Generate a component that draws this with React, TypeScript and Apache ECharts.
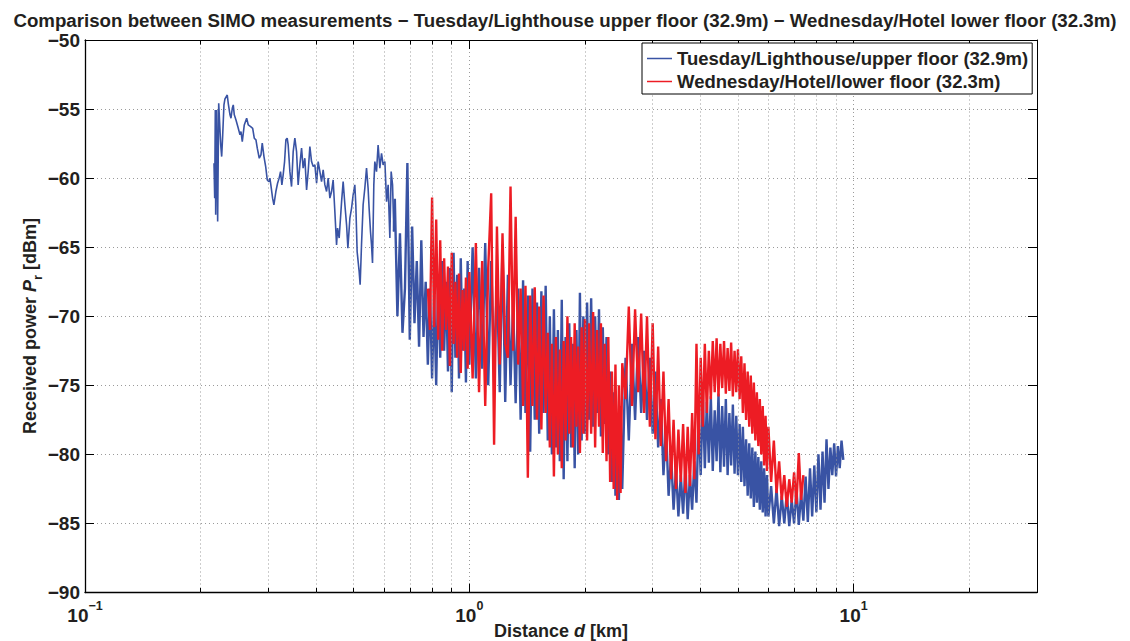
import React, { useEffect, useRef } from "react";
import * as echarts from "echarts";

// Tuesday trace, near field (distance km, power dBm)
const blueNear: [number, number][] = [
  [0.2166,-58.92],[0.2175,-61.45],[0.2183,-55.06],[0.2188,-62.66],[0.2201,-55.06],[0.2214,-63.14],[0.2228,-54.58],
  [0.2255,-57.6],[0.2268,-58.44],[0.2282,-56.87],[0.2299,-54.7],[0.2313,-54.27],[0.2345,-53.98],[0.2359,-54.58],
  [0.2384,-55.42],[0.2398,-55.66],[0.2417,-54.94],[0.2431,-54.7],[0.2446,-55.42],[0.2471,-55.79],[0.2505,-56.39],
  [0.2531,-56.87],[0.2546,-56.63],[0.2566,-57.36],[0.2597,-56.15],[0.2634,-55.66],[0.266,-56.15],[0.2698,-56.27],
  [0.2731,-56.39],[0.2757,-57.11],[0.2785,-57.23],[0.2807,-57.83],[0.2841,-58.56],[0.287,-58.32],[0.2892,-57.47],
  [0.2922,-58.44],[0.2952,-59.16],[0.298,-60.13],[0.3009,-60.25],[0.3027,-60.0],[0.3045,-60.49],[0.3077,-61.45],
  [0.3101,-61.93],[0.3138,-60.97],[0.317,-60.37],[0.32,-60.0],[0.3227,-59.53],[0.3253,-60.49],[0.3278,-59.76],
  [0.3306,-58.8],[0.3332,-57.23],[0.3358,-57.11],[0.3378,-57.6],[0.3413,-59.53],[0.3447,-60.61],[0.3481,-58.08],
  [0.3516,-57.11],[0.3552,-58.08],[0.3586,-60.49],[0.3623,-59.04],[0.366,-57.83],[0.3695,-59.28],[0.3733,-58.56],
  [0.3772,-60.85],[0.3808,-59.53],[0.3847,-57.72],[0.3886,-58.8],[0.3924,-59.16],[0.3964,-59.04],[0.4005,-60.37],
  [0.4043,-58.8],[0.4085,-59.53],[0.4126,-60.25],[0.4166,-59.4],[0.4209,-60.49],[0.4252,-60.97],[0.4293,-60.0],
  [0.4337,-61.45],[0.4381,-60.97],[0.4423,-60.13],[0.4468,-62.42],[0.4514,-64.83],[0.4541,-63.62],[0.4585,-64.34],
  [0.4652,-61.7],[0.4696,-60.25],[0.4745,-61.93],[0.4793,-63.38],[0.4831,-65.07],[0.4889,-62.9],[0.4939,-62.17],
  [0.4986,-61.21],[0.5036,-60.49],[0.5066,-61.93],[0.5106,-65.31],[0.5168,-66.76],[0.5199,-67.72],[0.5242,-64.83],
  [0.5293,-61.93],[0.5347,-60.73],[0.5402,-59.28],[0.5453,-60.73],[0.5486,-62.17],[0.5532,-63.87],[0.5566,-64.83],
  [0.5599,-66.15],[0.5643,-60.49],[0.5677,-58.8],[0.5735,-59.53],[0.579,-57.6],[0.585,-59.28],[0.591,-58.2],
  [0.5967,-59.04],[0.6029,-58.8],[0.6091,-61.7],[0.6149,-60.49],[0.6212,-64.34],[0.6261,-59.53],[0.6313,-60.49],
  [0.6363,-63.87],
];

// Distances (km) where the dense part of both traces was read
const denseDistance: number[] = [
  0.64,0.65,0.66,0.67,0.68,0.69,0.7,0.71,0.72,0.73,0.74,0.75,0.76,0.77,0.78,0.79,0.8,0.81,0.82,0.83,
  0.84,0.85,0.86,0.87,0.88,0.89,0.9,0.91,0.92,0.93,0.94,0.95,0.96,0.97,0.98,0.99,1.0,
  1.02,1.04,1.06,1.08,1.1,1.12,1.14,1.16,1.18,1.2,1.22,1.24,1.26,1.28,1.3,1.32,1.34,1.36,1.38,1.4,
  1.42,1.44,1.46,1.48,1.5,1.52,1.54,1.56,1.58,1.6,1.62,1.64,1.66,1.68,1.7,1.72,1.74,1.76,1.78,1.8,
  1.82,1.84,1.86,1.88,1.9,1.92,1.94,1.96,1.98,2.0,
  2.025,2.05,2.075,2.1,2.125,2.15,2.175,2.2,2.225,2.25,2.275,2.3,2.325,2.35,2.375,2.4,2.425,2.45,2.475,2.5,
  2.55,2.6,2.65,2.7,2.75,2.8,2.85,2.9,2.95,3.0,
  3.05,3.1,3.15,3.2,3.25,3.3,3.35,3.4,3.45,3.5,3.55,3.6,3.65,3.7,3.75,3.8,3.85,3.9,3.95,4.0,
  4.05,4.1,4.15,4.2,4.25,4.3,4.35,4.4,4.45,4.5,4.55,4.6,4.65,4.7,4.75,4.8,4.85,4.9,4.95,5.0,
  5.05,5.1,5.15,5.2,5.25,5.3,5.35,5.4,5.45,5.5,5.55,5.6,5.65,5.7,5.75,5.8,5.85,5.9,5.95,6.0,
  6.1,6.2,6.3,6.4,6.5,6.6,6.7,6.8,6.9,7.0,7.1,7.2,7.3,7.4,7.5,7.6,7.7,7.8,7.9,8.0,
  8.1,8.2,8.3,8.4,8.5,8.6,8.7,8.8,8.9,9.0,9.1,9.2,9.3,9.4,
];

// Tuesday / Lighthouse / upper floor (dBm), dense part
const blueDense: (number | null)[] = [
  -61.5,-70.0,-64.0,-71.2,-68.0,-58.9,-71.7,-63.5,-70.5,-66.0,-72.2,-64.5,-71.5,-67.5,-73.5,-68.0,-74.5,-68.5,-75.0,-67.0,
  -73.0,-66.0,-72.5,-67.5,-74.0,-66.5,-75.5,-65.4,-73.0,-67.0,-74.5,-65.8,-72.5,-68.0,-74.8,-66.0,-73.5,
  -65.0,-74.5,-66.5,-73.8,-64.7,-75.0,-66.0,-74.0,-67.5,-75.5,-64.8,-76.2,-67.0,-75.0,-69.0,-76.3,-68.0,-77.5,-67.4,-77.0,
  -68.5,-79.8,-68.0,-77.5,-69.0,-78.5,-68.2,-77.0,-67.8,-79.0,-70.0,-80.0,-69.5,-79.5,-71.0,-80.5,-68.8,-81.8,-71.5,-80.5,
  -70.5,-79.5,-72.0,-81.0,-71.0,-80.0,-68.3,-79.0,-70.0,-78.5,
  -69.0,-77.5,-68.7,-78.0,-70.0,-77.0,-69.5,-78.7,-70.8,-77.8,-71.5,-80.0,-74.0,-82.0,-75.5,-83.0,-77.0,-83.3,-76.5,-82.5,
  -73.0,-79.0,-72.0,-77.5,-71.5,-77.0,-72.5,-77.5,-73.0,-78.5,
  -74.0,-79.5,-76.0,-81.5,-78.0,-83.0,-80.0,-84.0,-81.0,-84.5,-81.5,-84.3,-80.8,-84.7,-81.5,-84.0,-80.5,-83.5,-77.0,-81.5,
  -75.5,-81.0,-76.2,-80.6,-75.8,-81.2,-76.8,-80.5,-75.6,-81.3,-76.5,-80.9,-76.0,-81.5,-77.0,-80.8,-76.4,-81.4,-77.2,-81.5,
  -77.8,-82.0,-78.0,-82.3,-78.9,-83.0,-79.2,-83.2,-79.5,-83.8,-79.8,-83.5,-80.2,-84.0,-80.5,-84.2,-81.0,-84.5,-81.5,-84.5,
  -82.3,-85.0,-82.5,-85.2,-83.0,-85.0,-82.8,-85.2,-83.3,-85.0,-82.5,-85.1,-82.8,-84.8,-81.6,-84.9,-81.0,-84.5,-80.8,-84.2,
  -80.0,-84.0,-79.8,-83.5,-78.9,-82.5,-79.5,-81.5,-79.2,-81.6,-79.4,-81.0,-79.0,-80.4,
];

// Wednesday / Hotel / lower floor (dBm), dense part
const redDense: (number | null)[] = [
  null,null,null,null,null,null,null,null,null,null,null,null,null,null,-68.0,-71.0,-61.4,-70.8,-63.0,-71.7,
  -64.5,-72.5,-65.8,-71.0,-66.4,-73.6,-65.4,-72.0,-67.5,-73.0,-66.9,-74.1,-68.1,-72.5,-67.2,-73.8,-66.8,
  -74.5,-64.7,-75.5,-66.0,-76.5,-66.5,-61.1,-79.3,-63.5,-73.5,-64.0,-72.0,-73.0,-60.6,-72.5,-62.8,-73.5,-68.0,-76.5,-67.8,
  -81.7,-68.5,-76.5,-67.9,-77.5,-69.3,-78.2,-68.5,-77.0,-71.2,-79.5,-72.0,-81.6,-71.5,-80.0,-72.4,-81.0,-71.8,-79.0,-70.0,
  -78.5,-71.5,-79.5,-70.5,-78.0,-72.2,-79.9,-70.8,-78.5,-70.2,
  -79.0,-70.5,-78.5,-69.7,-79.5,-71.0,-78.0,-70.5,-79.9,-72.0,-80.5,-71.5,-82.0,-74.0,-82.5,-73.5,-83.3,-75.0,-82.8,-73.4,
  -76.0,-69.3,-76.5,-69.5,-75.5,-69.8,-77.0,-70.0,-78.0,-70.5,
  -78.9,-72.2,-79.4,-74.0,-80.5,-76.0,-81.8,-77.5,-82.5,-78.2,-82.0,-77.8,-82.8,-78.0,-82.3,-77.0,-81.8,-72.0,-80.0,-73.0,
  -78.0,-72.0,-77.0,-72.5,-76.0,-71.8,-75.5,-71.6,-75.8,-72.0,-75.2,-71.8,-75.6,-72.3,-75.4,-71.9,-75.8,-72.5,-75.5,-72.4,
  -76.0,-72.9,-77.0,-73.4,-77.5,-74.0,-78.0,-74.3,-78.5,-74.8,-79.0,-75.5,-79.4,-76.0,-80.0,-76.5,-80.8,-77.2,-81.2,-78.0,
  -82.0,-79.0,-82.8,-80.5,-83.3,-81.5,-83.8,-81.8,-83.5,-81.3,-83.6,-79.9,-83.3,-81.5,null,null,null,null,null,null,
  null,null,null,null,null,null,null,null,null,null,null,null,null,null,
];

const minorDistances = [0.2, 0.3, 0.4, 0.5, 0.6, 0.7, 0.8, 0.9, 2, 3, 4, 5, 6, 7, 8, 9, 20];

const SERIES_BLUE = "Tuesday/Lighthouse/upper floor (32.9m)";
const SERIES_RED = "Wednesday/Hotel/lower floor (32.3m)";
const TITLE =
  "Comparison between SIMO measurements \u2212 Tuesday/Lighthouse upper floor (32.9m) \u2212 Wednesday/Hotel lower floor (32.3m)";

const FONT = '"Liberation Sans", Arial, Helvetica, sans-serif';
const TXT = "#231f20";
const BLUE = "#3953a4";
const RED = "#ed1c24";
const GRID = "#9a9a9a";

export default function App() {
  const ref = useRef<HTMLDivElement>(null);

  useEffect(() => {
    if (!ref.current) return;
    const chart = echarts.init(ref.current, undefined, { renderer: "svg" });

    const blueDenseData: [number, number][] = [blueNear[blueNear.length - 1]].concat(
      denseDistance
        .map((d, i) => [d, blueDense[i]] as [number, number | null])
        .filter((p) => p[1] != null) as [number, number][]
    );
    const redData: [number, number][] = denseDistance
      .map((d, i) => [d, redDense[i]] as [number, number | null])
      .filter((p) => p[1] != null) as [number, number][];

    const markData: any[] = [];
    minorDistances.forEach((d) => {
      markData.push({ xAxis: d, lineStyle: { type: [1, 3], color: GRID, width: 1 } });
      markData.push([
        { coord: [d, -90], lineStyle: { type: "solid", color: "#000", width: 1 } },
        { coord: [d, -89.67] },
      ]);
      markData.push([
        { coord: [d, -50], lineStyle: { type: "solid", color: "#000", width: 1 } },
        { coord: [d, -50.33] },
      ]);
    });

    const decadeLabel = (v: number) => {
      const l = Math.log10(v);
      const e = Math.round(l);
      if (Math.abs(l - e) > 1e-6) return "";
      return "{b|10}{s|" + (e < 0 ? "\u2212" + -e : String(e)) + "}";
    };

    const textBold = { fontFamily: FONT, fontWeight: "bold" as const, color: TXT };

    chart.setOption({
      animation: false,
      backgroundColor: "#fff",
      title: {
        text: TITLE,
        left: "center",
        top: 6,
        textStyle: { ...textBold, fontSize: 18.7 },
      },
      legend: {
        orient: "vertical",
        left: 642,
        top: 43,
        icon: "rect",
        itemWidth: 25,
        itemHeight: 1.5,
        itemGap: 4,
        padding: [6, 4, 3, 5],
        borderColor: "#000",
        borderWidth: 1,
        backgroundColor: "#fff",
        z: 10,
        textStyle: { ...textBold, fontSize: 18.5 },
        data: [SERIES_BLUE, SERIES_RED],
      },
      grid: { left: 85, top: 40, width: 952, height: 552.5, show: false },
      xAxis: [
        {
          type: "log",
          logBase: 10,
          min: 0.1,
          max: 30,
          position: "bottom",
          axisLine: { show: true, lineStyle: { color: "#000", width: 1.3 } },
          axisTick: { show: true, inside: true, length: 9, lineStyle: { color: "#000", width: 1 } },
          splitLine: { show: true, lineStyle: { type: [1, 3], color: GRID, width: 1 } },
          axisLabel: {
            margin: 7,
            formatter: decadeLabel,
            rich: {
              b: { ...textBold, fontSize: 19, padding: [6, 0, 0, 0], verticalAlign: "bottom" },
              s: { ...textBold, fontSize: 12.5, padding: [0, 0, 12, 0], verticalAlign: "bottom" },
            },
          },
        },
        {
          type: "log",
          logBase: 10,
          min: 0.1,
          max: 30,
          position: "top",
          axisLine: { show: true, lineStyle: { color: "#000", width: 1 } },
          axisTick: { show: true, inside: true, length: 9, lineStyle: { color: "#000", width: 1 } },
          splitLine: { show: false },
          axisLabel: { show: false },
        },
      ],
      yAxis: [
        {
          type: "value",
          min: -90,
          max: -50,
          interval: 5,
          axisLine: { show: true, lineStyle: { color: "#000", width: 1.3 } },
          axisTick: { show: true, inside: true, length: 9, lineStyle: { color: "#000", width: 1 } },
          splitLine: { show: true, lineStyle: { type: [1, 3], color: GRID, width: 1 } },
          axisLabel: {
            margin: 5,
            ...textBold,
            fontSize: 19,
            formatter: (v: number) => String(v).replace("-", "\u2212"),
          },
        },
        {
          type: "value",
          min: -90,
          max: -50,
          interval: 5,
          position: "right",
          axisLine: { show: true, lineStyle: { color: "#000", width: 1 } },
          axisTick: { show: true, inside: true, length: 9, lineStyle: { color: "#000", width: 1 } },
          splitLine: { show: false },
          axisLabel: { show: false },
        },
      ],
      graphic: [
        {
          type: "text",
          x: 561,
          y: 631,
          z: 20,
          style: {
            text: "{n|Distance }{i|d}{n| [km]}",
            align: "center",
            verticalAlign: "middle",
            rich: {
              n: { fontFamily: FONT, fontWeight: "bold", fontSize: 18, fill: TXT },
              i: { fontFamily: FONT, fontWeight: "bold", fontStyle: "italic", fontSize: 18, fill: TXT },
            },
          },
        },
        {
          type: "text",
          x: 32,
          y: 326,
          rotation: Math.PI / 2,
          z: 20,
          style: {
            text: "{n|Received power }{i|P}{sub|r}{n| [dBm]}",
            align: "center",
            verticalAlign: "middle",
            rich: {
              n: { fontFamily: FONT, fontWeight: "bold", fontSize: 18, fill: TXT, padding: [0, 0, 5, 0], verticalAlign: "bottom" },
              i: { fontFamily: FONT, fontWeight: "bold", fontStyle: "italic", fontSize: 18, fill: TXT, padding: [0, 0, 5, 0], verticalAlign: "bottom" },
              sub: { fontFamily: FONT, fontWeight: "bold", fontSize: 13, fill: TXT, verticalAlign: "bottom" },
            },
          },
        },
      ],
      series: [
        {
          name: "grid-helper",
          type: "line",
          data: [],
          z: 1,
          silent: true,
          markLine: {
            silent: true,
            symbol: ["none", "none"],
            label: { show: false },
            animation: false,
            data: markData,
          },
        },
        {
          name: SERIES_BLUE,
          type: "line",
          data: blueNear,
          showSymbol: false,
          symbol: "none",
          z: 3,
          lineStyle: { color: BLUE, width: 1.6 },
          itemStyle: { color: BLUE },
        },
        {
          name: SERIES_BLUE,
          type: "line",
          data: blueDenseData,
          showSymbol: false,
          symbol: "none",
          z: 3,
          lineStyle: { color: BLUE, width: 2.4, join: "bevel" },
          itemStyle: { color: BLUE },
        },
        {
          name: SERIES_RED,
          type: "line",
          data: redData,
          showSymbol: false,
          symbol: "none",
          z: 4,
          lineStyle: { color: RED, width: 2.4, join: "bevel" },
          itemStyle: { color: RED },
        },
      ],
    });

    return () => chart.dispose();
  }, []);

  return (
    <div
      ref={ref}
      style={{ position: "fixed", left: 0, top: 0, width: 1130, height: 641, background: "#fff" }}
    />
  );
}
